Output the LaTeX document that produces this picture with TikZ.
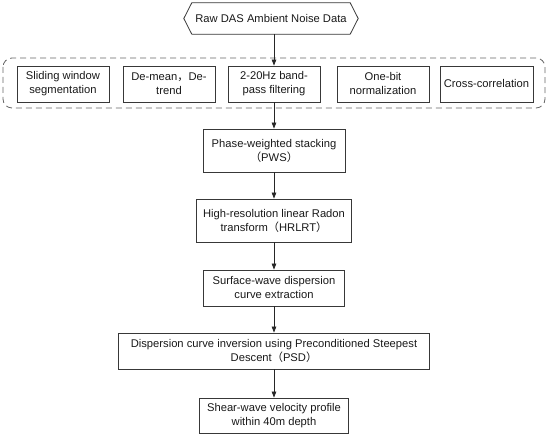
\documentclass[tikz,border=0pt]{standalone}
\usepackage{fontspec}
\setmainfont{Liberation Sans}
\newfontfamily\cjk{Noto Sans CJK SC}
\usetikzlibrary{arrows.meta}
\begin{document}
\begin{tikzpicture}[x=1pt,y=-1pt,
  every node/.style={font=\fontsize{11.2}{14}\selectfont, text=black!90, align=center, inner sep=0pt},
  box/.style={draw=black!78, line width=0.8pt, minimum height=36pt},
  grp/.style={draw=black!60, line width=0.8pt, dash pattern=on 6pt off 4pt, rounded corners=9pt},
  arr/.style={draw=black!85, line width=0.8pt, -{Triangle[length=6pt,width=4.5pt]}}
]
\useasboundingbox (0,0) rectangle (550,435);
% top hexagon
\node (raw) at (271,18.5) [minimum width=158pt, minimum height=31pt] {Raw DAS Ambient Noise Data};
\draw[draw=black!78, line width=0.8pt] ([xshift=-8pt]raw.west) -- (raw.north west) -- (raw.north east) -- ([xshift=8pt]raw.east) -- (raw.south east) -- (raw.south west) -- cycle;
% dashed group
\draw[grp] (3,58) rectangle (545,108);
\node[box, minimum width=92pt] (b1) at (63,84) {Sliding window\\segmentation};
\node[box, minimum width=92pt] (b2) at (169,84) {De-mean{\cjk ，}De-\\trend};
\node[box, minimum width=92pt] (b3) at (274,84) {2-20Hz band-\\pass filtering};
\node[box, minimum width=92pt] (b4) at (383,84) {One-bit\\normalization};
\node[box, minimum width=93pt] (b5) at (486.5,84) {Cross-correlation};
% main chain
\node[box, minimum width=142pt, minimum height=43pt] (pws) at (274,150.5) {Phase-weighted stacking\\{\cjk （}PWS{\cjk ）}};
\node[box, minimum width=155pt, minimum height=43pt] (hrl) at (274,220.5) {High-resolution linear Radon\\transform{\cjk （}HRLRT{\cjk ）}};
\node[box, minimum width=141pt] (sur) at (274,288) {Surface-wave dispersion\\curve extraction};
\node[box, minimum width=311pt] (psd) at (274,351) {Dispersion curve inversion using Preconditioned Steepest\\Descent{\cjk （}PSD{\cjk ）}};
\node[box, minimum width=149pt, minimum height=35pt] (shr) at (274,415.5) {Shear-wave velocity profile\\within 40m depth};
% connectors
\draw[arr] (raw.south -| b3.north) -- (b3.north);
\draw[arr] (b3) -- (pws);
\draw[arr] (pws) -- (hrl);
\draw[arr] (hrl) -- (sur);
\draw[arr] (sur) -- (psd);
\draw[arr] (psd) -- (shr);
\end{tikzpicture}
\end{document}
